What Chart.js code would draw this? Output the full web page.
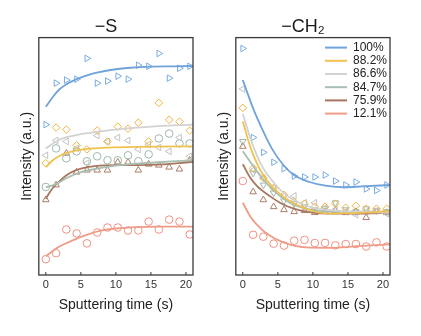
<!DOCTYPE html>
<html>
<head>
<meta charset="utf-8">
<script src="https://cdn.jsdelivr.net/npm/chart.js@4.4.0/dist/chart.umd.min.js"></script>
<style>
    body { margin: 0; background: #fff; }
    #wrap { position: relative; width: 421px; height: 336px; }
    canvas { position: absolute; top: 0; }
    #chartS { left: 0; }
    #chartCH { left: 210px; }
</style>
</head>
<body>
<div id="wrap">
    <canvas id="chartS" width="210" height="336"></canvas>
    <canvas id="chartCH" width="211" height="336"></canvas>
</div>
<script>
// 測定時間 (s)
const sputterTime = [0, 1.47, 2.93, 4.4, 5.87, 7.33, 8.8, 10.27, 11.73, 13.2, 14.67, 16.13, 17.6, 19.07, 20.53];
const ratioLabels = ['100%', '88.2%', '86.6%', '84.7%', '75.9%', '12.1%'];
const xTicks = [0, 5, 10, 15, 20];

// −S 測定点
const s100 = [152, 194, 197, 198, 219, 194, 196, 201, 198, 212, 211, 224, 199, 209, 211];
const s882 = [113, 149, 147, 131, 127, 146, 135, 150, 148, 154, 135, 174, 157, 155, 146];
const s866 = [121, 136, 135, 128, 113, 141, 135, 139, 136, 127, 132, 129, 125, 139, 120];
const s847 = [89, 128, 118, 125, 115, 120, 116, 116, 121, 115, 122, 138, 143, 133, 133];
const s759 = [76, 91, 123, 104, 106, 106, 106, 114, 114, 106, 112, 111, 109, 107, 116];
const s121 = [16, 22, 46, 42, 32, 43, 48, 48, 45, 45, 54, 46, 56, 54, 41];

// −S フィット曲線
const sFit100X = [0, 1, 2, 3, 4.4, 6, 7.3, 10, 12, 15, 18, 21];
const sFit100Y = [170, 180, 188, 193, 198, 202, 204.5, 208, 209.5, 210.7, 211, 211.3];
const sFit882X = [0, 1, 2, 3, 4.4, 6, 8, 10, 13, 16, 21];
const sFit882Y = [109, 116, 120.5, 123.5, 126, 127.5, 128.5, 129, 129.5, 129.8, 130];
const sFit866X = [0, 2, 4, 6, 8, 10, 13, 16, 21];
const sFit866Y = [128, 137, 141, 143.5, 145.5, 147, 149, 150.5, 152];
const sFit847X = [0, 1.5, 3, 5, 7.3, 10, 13, 16, 21];
const sFit847Y = [88.5, 92, 98, 104, 107.5, 110.5, 112.5, 114, 116];
const sFit759X = [0, 0.5, 1, 2, 3, 4, 5, 7, 10, 13, 16, 19, 21];
const sFit759Y = [77, 83, 88, 95, 101, 105, 107.5, 110, 111, 111, 111.5, 113, 114.5];
const sFit121X = [0, 2, 4, 6, 8, 10, 13, 16, 21];
const sFit121Y = [19, 29, 35.5, 41, 45, 47, 48.5, 49, 49];

// −CH2 測定点
const c100 = [229, 139, 124, 114, 107.5, 100, 99, 99, 101, 95, 91, 94, 87, 85.5, 91];
const c882 = [169, 108, 98, 88, 81, 74, 72, 69, 69, 72, 68, 70, 67, 67, 67];
const c866 = [188, 106, 98, 88, 80, 80, 73, 73, 68, 66, 64, 61, 64, 65, 62];
const c847 = [135, 103, 91, 83, 75, 72, 69, 66, 67, 73, 66, 64, 67, 65, 64];
const c759 = [130, 84, 76, 69, 66, 64, 65, 63, 64, 65, 63, 64, 58, 64, 63];
const c121 = [95, 40.7, 38.7, 31.7, 29.7, 34.7, 35.5, 32.3, 32.5, 30, 31.3, 31.3, 28.8, 33, 28.8];

// −CH2 フィット曲線
const cFit100X = [0, 1.5, 3, 4.3, 5.7, 7.3, 9.5, 12, 14.5, 17, 21];
const cFit100Y = [197, 168, 144, 126, 112, 101, 94, 90, 88.7, 89.5, 91];
const cFit882X = [0, 1, 2, 2.9, 4, 5.8, 8.6, 12.4, 16, 21];
const cFit882Y = [155.3, 131, 113, 101, 91, 79, 68, 62, 62.5, 64.5];
const cFit866X = [0, 1, 2, 2.9, 4, 5.8, 8, 10, 13, 21];
const cFit866Y = [163, 140, 121, 108, 97, 83, 73, 68, 65, 63];
const cFit847X = [0, 1, 2, 3, 4.2, 6, 7.6, 10, 13, 21];
const cFit847Y = [125, 115, 105, 96, 87, 76, 70, 65.5, 64, 64];
const cFit759X = [0, 1, 2, 3.8, 5.7, 7.3, 9, 12, 16, 21];
const cFit759Y = [112, 99, 90, 80, 71.5, 67, 64, 62, 62, 63];
const cFit121X = [0, 1, 2, 3.4, 5.8, 9, 13, 17, 21];
const cFit121Y = [73, 60, 51, 42, 33, 28, 27.5, 29.5, 31];

const FONT = '"Liberation Sans", Arial, sans-serif';
const lineColors = ['#6fa3da', '#f1c14f', '#d2d2d2', '#a9bfb2', '#a8765f', '#ef9b88'];
const markColors = ['#79abe0', '#f0b43e', '#c2c2c2', '#9db7a9', '#ad7d68', '#ee9080'];

const toPts = (xs, ys) => ys.map((y, i) => ({ x: xs[i], y }));

// 枠線と内向き目盛り
const framePlugin = {
    id: 'frame',
    afterDatasetsDraw(chart) {
        const { ctx, chartArea: a, scales: { x } } = chart;
        ctx.save();
        ctx.strokeStyle = '#3a3a3a';
        ctx.lineWidth = 1.3;
        ctx.strokeRect(a.left, a.top, a.right - a.left, a.bottom - a.top);
        ctx.lineWidth = 1;
        x.ticks.forEach(t => {
            const px = x.getPixelForValue(t.value);
            ctx.beginPath();
            ctx.moveTo(px, a.bottom);
            ctx.lineTo(px, a.bottom - 3);
            ctx.stroke();
        });
        ctx.restore();
    }
};

// 図内の凡例
const innerLegend = {
    id: 'innerLegend',
    afterDraw(chart) {
        if (!chart.options.plugins.innerLegend.show) return;
        const { ctx, chartArea: a } = chart;
        ctx.save();
        ctx.font = '12px ' + FONT;
        ctx.textBaseline = 'middle';
        ratioLabels.forEach((lab, i) => {
            const y = a.top + 10 + i * 13.2;
            ctx.strokeStyle = lineColors[i];
            ctx.lineWidth = 2;
            ctx.beginPath();
            ctx.moveTo(a.right - 65, y);
            ctx.lineTo(a.right - 43, y);
            ctx.stroke();
            ctx.fillStyle = '#222';
            ctx.fillText(lab, a.right - 37, y);
        });
        ctx.restore();
    }
};

function makeChart(canvasId, title, marks, fitsX, fitsY, styles, pad, showLegend) {
    const ctx = document.getElementById(canvasId).getContext('2d');
    const datasets = [];
    fitsY.forEach((ys, i) => {
        datasets.push({
            label: ratioLabels[i] + ' fit',
            data: toPts(fitsX[i], ys),
            showLine: true,
            borderColor: lineColors[i],
            borderWidth: 1.8,
            pointRadius: 0,
            cubicInterpolationMode: 'monotone',
            order: 0
        });
    });
    marks.forEach((ys, i) => {
        datasets.push({
            label: ratioLabels[i],
            data: toPts(sputterTime, ys),
            showLine: false,
            pointStyle: styles[i][0],
            rotation: styles[i][1],
            pointRadius: 3.8,
            pointBorderWidth: 1,
            pointBorderColor: markColors[i],
            pointBackgroundColor: 'rgba(255,255,255,0)',
            order: 1
        });
    });

    return new Chart(ctx, {
        type: 'scatter',
        data: { datasets },
        plugins: [framePlugin, innerLegend],
        options: {
            responsive: false,
            animation: false,
            layout: { padding: pad },
            plugins: {
                legend: { display: false },
                tooltip: { enabled: false },
                innerLegend: { show: showLegend },
                title: {
                    display: true,
                    text: title,
                    color: '#1a1a1a',
                    font: { size: 18, family: FONT, weight: 'normal' },
                    padding: { top: 16, bottom: 0 }
                }
            },
            scales: {
                x: {
                    type: 'linear',
                    min: -1,
                    max: 21,
                    afterBuildTicks: s => { s.ticks = xTicks.map(v => ({ value: v })); },
                    grid: { display: false, drawTicks: false },
                    border: { display: false },
                    ticks: { padding: 3, color: '#333', font: { size: 11, family: FONT } },
                    title: {
                        display: true,
                        text: 'Sputtering time (s)',
                        color: '#222',
                        font: { size: 14, family: FONT },
                        padding: { top: 3, bottom: 0 }
                    }
                },
                y: {
                    min: 0,
                    max: 240,
                    grid: { display: false, drawTicks: false },
                    border: { display: false },
                    ticks: { display: false },
                    title: {
                        display: true,
                        text: 'Intensity (a.u.)',
                        color: '#222',
                        font: { size: 14, family: FONT },
                        padding: { top: 0, bottom: 3 }
                    }
                }
            }
        }
    });
}

const stylesS = [['triangle', 90], ['rectRot', 0], ['triangle', -90], ['circle', 0], ['triangle', 0], ['circle', 0]];
const stylesCH = [['triangle', 90], ['rectRot', 0], ['triangle', -90], ['triangle', 180], ['triangle', 0], ['circle', 0]];

makeChart('chartS', '\u2212S',
    [s100, s882, s866, s847, s759, s121],
    [sFit100X, sFit882X, sFit866X, sFit847X, sFit759X, sFit121X],
    [sFit100Y, sFit882Y, sFit866Y, sFit847Y, sFit759Y, sFit121Y],
    stylesS, { left: 19, right: 17, top: 0, bottom: 22 }, false);

makeChart('chartCH', '\u2212CH\u2082',
    [c100, c882, c866, c847, c759, c121],
    [cFit100X, cFit882X, cFit866X, cFit847X, cFit759X, cFit121X],
    [cFit100Y, cFit882Y, cFit866Y, cFit847Y, cFit759Y, cFit121Y],
    stylesCH, { left: 6, right: 31, top: 0, bottom: 22 }, true);
</script>
</body>
</html>
